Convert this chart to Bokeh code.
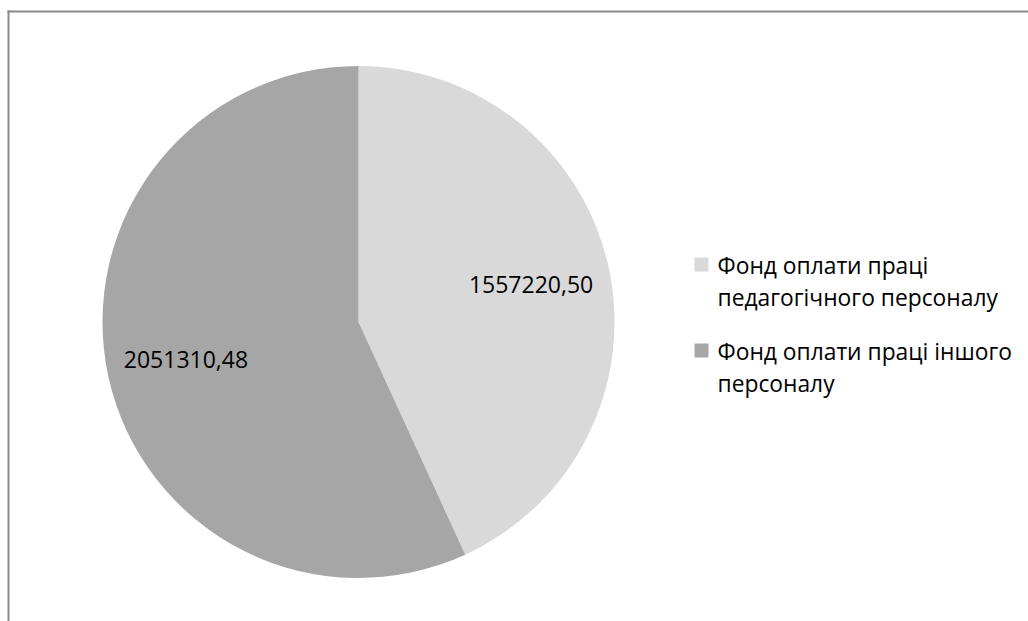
import math
from bokeh.plotting import figure
from bokeh.models import Range1d, ColumnDataSource
from bokeh.core.properties import value
from bokeh.embed import file_html
from bokeh.resources import INLINE

# ---- data ----
categories = ["Фонд оплати праці педагогічного персоналу",
              "Фонд оплати праці іншого персоналу"]
legend_lines = [["Фонд оплати праці", "педагогічного персоналу"],
                ["Фонд оплати праці іншого", "персоналу"]]
values = [1557220.50, 2051310.48]
colors = ["#d9d9d9", "#a6a6a6"]

W, H = 1028, 621
def Y(sy):
    return H - sy

cx, cy, r = 358.0, Y(321.5), 256.0
label_frac = 0.69

total = sum(values)
starts, ends, lx, ly, ltxt = [], [], [], [], []
acc = 0.0
for v in values:
    a0 = math.pi / 2 - 2 * math.pi * acc / total
    a1 = math.pi / 2 - 2 * math.pi * (acc + v) / total
    starts.append(a0)
    ends.append(a1)
    mid = (a0 + a1) / 2
    lx.append(cx + label_frac * r * math.cos(mid))
    ly.append(cy + label_frac * r * math.sin(mid))
    ltxt.append(f"{v:.2f}".replace(".", ","))
    acc += v

p = figure(width=W, height=H, output_backend="svg", toolbar_location=None,
           x_range=Range1d(0, W), y_range=Range1d(0, H), min_border=0)
p.axis.visible = False
p.grid.visible = False
p.outline_line_color = None
p.background_fill_color = "white"
p.border_fill_color = "white"

# chart area frame (only top and left edges are visible)
p.segment(x0=[7, 8], y0=[Y(11), Y(10)], x1=[W + 5, 8], y1=[Y(11), Y(H + 5)],
          line_color="#898989", line_width=2)

src = ColumnDataSource(dict(start=starts, end=ends, color=colors, cat=categories))
p.wedge(x=cx, y=cy, radius=r, start_angle="start", end_angle="end",
        direction="clock", fill_color="color", line_color=None, source=src)

p.text(x=lx, y=ly, text=ltxt, text_font=value("Open Sans"),
       text_font_size="23px", text_align="center", text_baseline="middle",
       text_color="#000000")

# legend
sq_x, sq_size = 701, 14
sq_y = [264, 350]
txt_x = 717
base_y = [265, 351]
line_gap = 32
p.rect(x=[sq_x] * len(colors), y=[Y(s) for s in sq_y], width=sq_size,
       height=sq_size, fill_color=colors, line_color=None)
tx, ty, tt = [], [], []
for i, lines in enumerate(legend_lines):
    for j, t in enumerate(lines):
        tx.append(txt_x)
        ty.append(Y(base_y[i] + j * line_gap))
        tt.append(t)
p.text(x=tx, y=ty, text=tt, text_font=value("Open Sans"),
       text_font_size="22.8px", text_align="left", text_baseline="alphabetic",
       text_color="#000000")

open("out.html", "w").write(file_html(p, INLINE))
